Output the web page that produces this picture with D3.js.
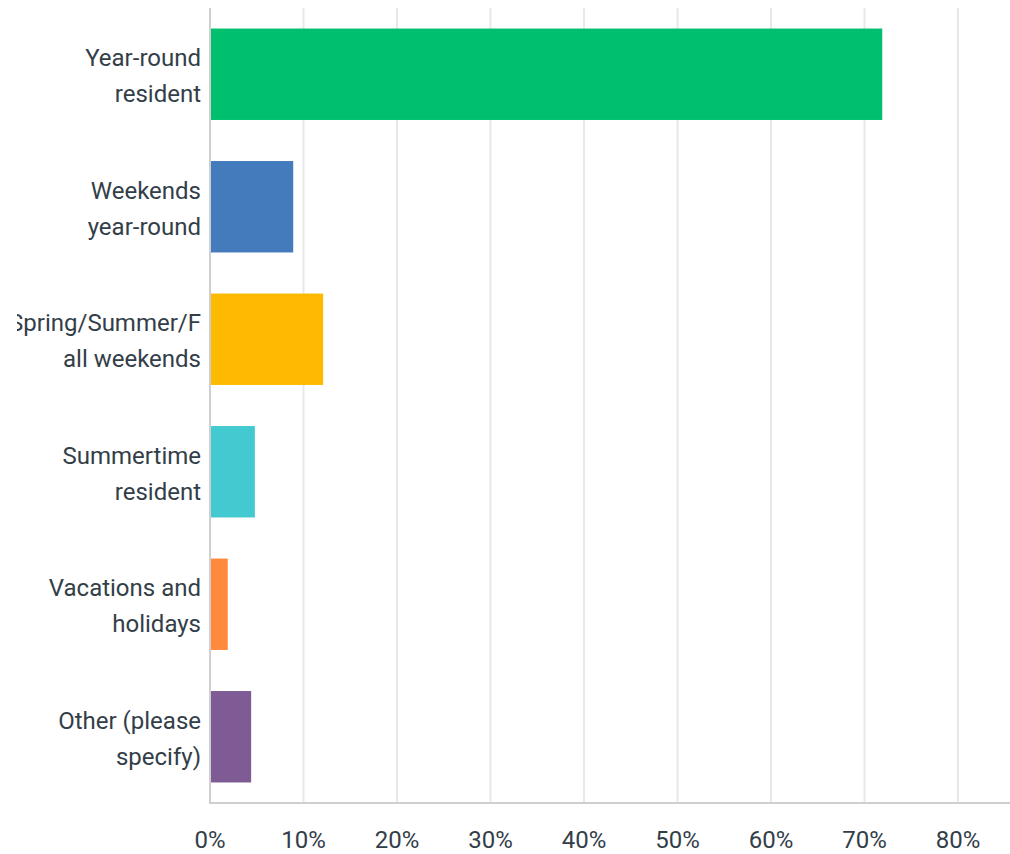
<!DOCTYPE html>
<html>
  <head>
    <meta charset="utf-8" />
    <title>Residency bar chart</title>
    <script src="https://d3js.org/d3.v7.min.js"></script>
    <style>
      body {
        margin: 0;
        background: #fff;
        font-family: Roboto, sans-serif;
      }
    </style>
  </head>
  <body>
    <svg width="1010" height="854"></svg>

    <script>
      // data
      const categories = [
        ["Year-round", "resident"],
        ["Weekends", "year-round"],
        ["Spring/Summer/F", "all weekends"],
        ["Summertime", "resident"],
        ["Vacations and", "holidays"],
        ["Other (please", "specify)"]
      ];
      const values = [71.9, 8.9, 12.1, 4.8, 1.9, 4.4];
      const colors = ["#00bf6f", "#437bbd", "#fdba00", "#43cad0", "#ff8a3d", "#7e5b94"];
      const ticks = [0, 10, 20, 30, 40, 50, 60, 70, 80];

      const svg = d3.select("svg");
      const width = +svg.attr("width");

      const plotLeft = 210, plotTop = 8, plotBottom = 803;

      const x = d3.scaleLinear().domain([0, 80]).range([plotLeft, 958]);
      const y = d3.scaleBand()
        .domain(d3.range(categories.length))
        .range([plotTop, plotBottom])
        .paddingInner(0.31)
        .paddingOuter(0.155);

      // gridlines
      svg.append("g")
        .selectAll("line")
        .data(ticks.slice(1))
        .join("line")
        .attr("x1", d => x(d))
        .attr("x2", d => x(d))
        .attr("y1", plotTop)
        .attr("y2", plotBottom)
        .attr("stroke", "#e8e8e8")
        .attr("stroke-width", 2);

      // bars
      svg.append("g")
        .selectAll("rect")
        .data(values)
        .join("rect")
        .attr("x", x(0))
        .attr("y", (d, i) => y(i))
        .attr("width", d => x(d) - x(0))
        .attr("height", y.bandwidth())
        .attr("fill", (d, i) => colors[i]);

      // axis lines
      svg.append("line")
        .attr("x1", x(0)).attr("x2", x(0))
        .attr("y1", plotTop).attr("y2", plotBottom + 1)
        .attr("stroke", "#cfcfcf").attr("stroke-width", 2);
      svg.append("line")
        .attr("x1", x(0) - 1).attr("x2", width)
        .attr("y1", plotBottom).attr("y2", plotBottom)
        .attr("stroke", "#cfcfcf").attr("stroke-width", 2);

      // x tick labels
      svg.append("g")
        .selectAll("text")
        .data(ticks)
        .join("text")
        .attr("x", d => x(d))
        .attr("y", 848)
        .attr("text-anchor", "middle")
        .attr("font-size", 24)
        .attr("fill", "#333e48")
        .text(d => d + "%");

      // category labels, clipped on the left like the original
      svg.append("clipPath").attr("id", "lab-clip")
        .append("rect").attr("x", 17).attr("y", 0).attr("width", 190).attr("height", 854);

      const labels = svg.append("g").attr("clip-path", "url(#lab-clip)")
        .selectAll("text")
        .data(categories)
        .join("text")
        .attr("text-anchor", "end")
        .attr("font-size", 24)
        .attr("fill", "#333e48");

      labels.selectAll("tspan")
        .data((d, i) => d.map((line, j) => ({ line, j, i })))
        .join("tspan")
        .attr("x", 201)
        .attr("y", d => y(d.i) + y.bandwidth() / 2 - 8 + d.j * 36)
        .text(d => d.line);
    </script>
  </body>
</html>
